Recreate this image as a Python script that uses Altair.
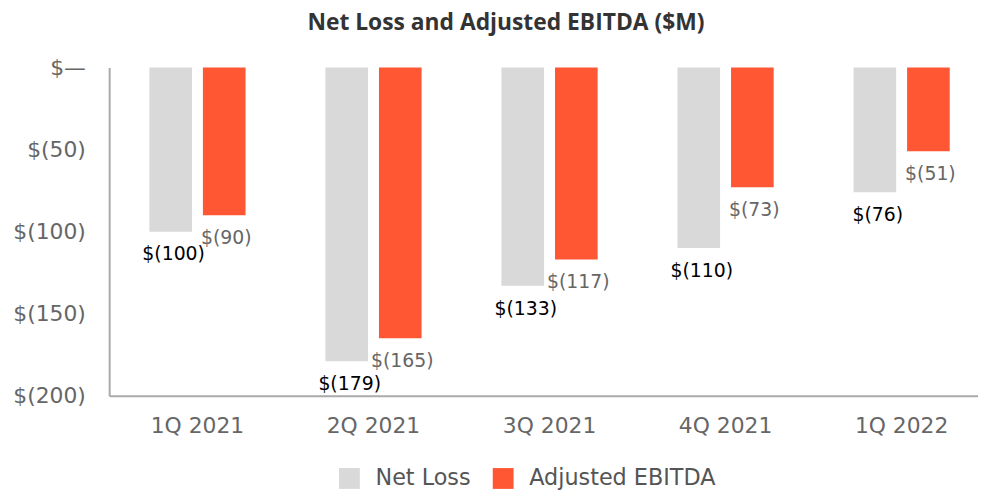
import altair as alt
import pandas as pd

quarters = ["1Q 2021", "2Q 2021", "3Q 2021", "4Q 2021", "1Q 2022"]
net_loss = [-100, -179, -133, -110, -76]
adj_ebitda = [-90, -165, -117, -73, -51]
series = ["Net Loss", "Adjusted EBITDA"]
colors = ["#d9d9d9", "#ff5733"]

rows = []
for q, a, b in zip(quarters, net_loss, adj_ebitda):
    rows.append({"quarter": q, "series": series[0], "value": a})
    rows.append({"quarter": q, "series": series[1], "value": b})
df = pd.DataFrame(rows)
df["label"] = df["value"].apply(lambda v: f"$({abs(v)})")

x = alt.X("quarter:N", sort=quarters, title=None,
          scale=alt.Scale(paddingInner=0.4535, paddingOuter=0.1944, align=0.587),
          axis=alt.Axis(labelAngle=0, labelFontSize=22, labelColor="#666666",
                        labelFont="DejaVu Sans", ticks=False, labelPadding=20,
                        domainColor="#aaaaaa", domainWidth=2))
xo = alt.XOffset("series:N", sort=series,
                 scale=alt.Scale(domain=series, paddingInner=0.204, paddingOuter=0))
y = alt.Y("value:Q", title=None,
          scale=alt.Scale(domain=[-200, 0], nice=False),
          axis=alt.Axis(values=[0, -50, -100, -150, -200], grid=False, ticks=False,
                        labelFontSize=22, labelColor="#666666", labelFont="DejaVu Sans",
                        labelPadding=24, domainColor="#aaaaaa", domainWidth=2,
                        labelExpr="datum.value == 0 ? '$—' : '$(' + abs(datum.value) + ')'"))

base = alt.Chart(df)

bars = base.mark_bar().encode(
    x=x, xOffset=xo, y=y, y2=alt.datum(0),
    color=alt.Color("series:N", sort=series,
                    scale=alt.Scale(domain=series, range=colors),
                    legend=alt.Legend(title=None, orient="none", direction="horizontal",
                                      legendX=231, legendY=403, padding=0,
                                      symbolType="square",
                                      symbolSize=441, symbolStrokeWidth=0,
                                      labelFontSize=22.5, labelColor="#555555",
                                      labelFont="DejaVu Sans", columnPadding=21,
                                      labelOffset=15, labelLimit=400))
)

text_nl = base.transform_filter(alt.datum.series == "Net Loss").mark_text(
    baseline="middle", dy=23, dx=3, fontSize=19, color="#000000", font="DejaVu Sans"
).encode(x=x, xOffset=xo, y=y, text="label:N")

text_eb = base.transform_filter(alt.datum.series == "Adjusted EBITDA").mark_text(
    baseline="middle", dy=23, dx=2, fontSize=19, color="#666666", font="DejaVu Sans"
).encode(x=x, xOffset=xo, y=y, text="label:N")

chart = alt.layer(bars, text_nl, text_eb).properties(
    width=876, height=331,
    autosize=alt.AutoSizeParams(type="none"),
    padding={"left": 102, "top": 58, "right": 0, "bottom": 93},
    title=alt.TitleParams("Net Loss and Adjusted EBITDA ($M)", fontSize=23,
                          font="Open Sans", fontWeight="bold", color="#333333",
                          anchor="middle", frame="group", dx=-38, offset=22)
).configure_view(stroke=None)

chart.save("out.html", embed_options={"renderer": "svg", "actions": False})
